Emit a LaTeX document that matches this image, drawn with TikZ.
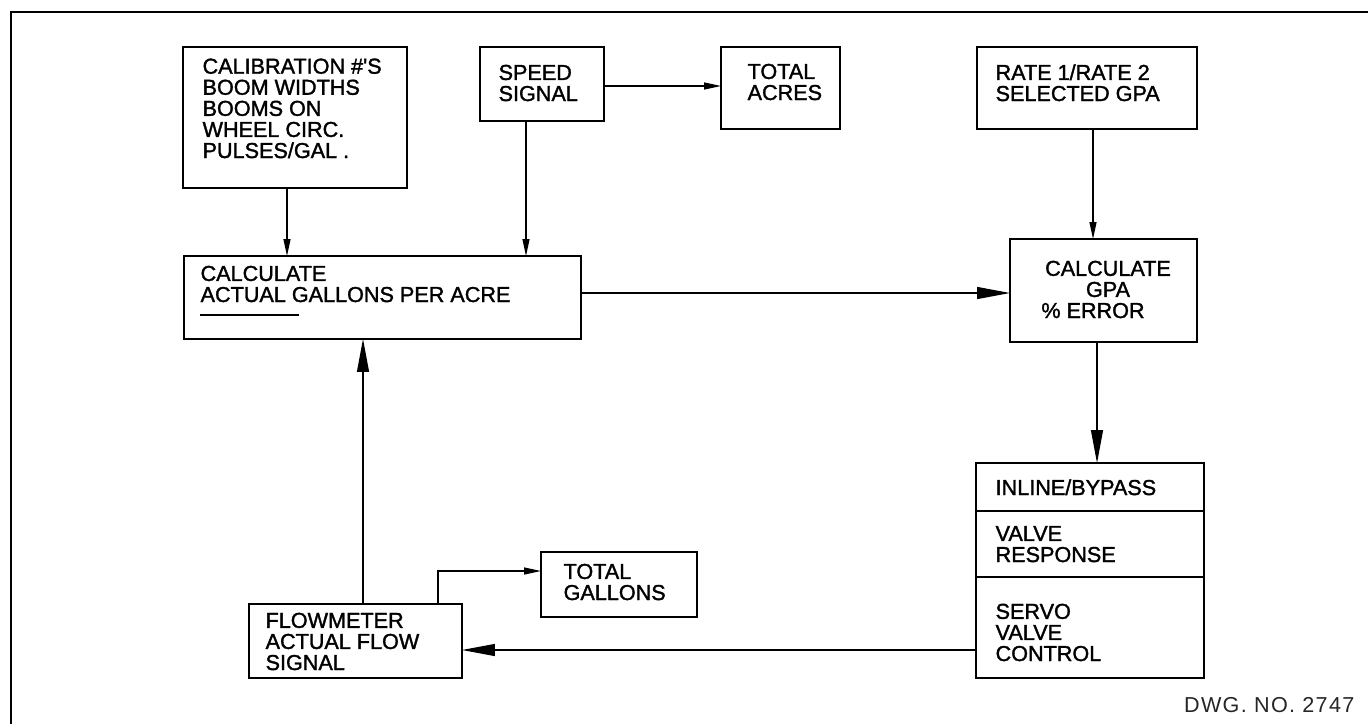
\documentclass[tikz,border=0pt]{standalone}
\usepackage{fontspec}
\setmainfont{Liberation Sans}
\newfontfamily\boxfont{Liberation Sans}[FakeBold=1.5]
\usetikzlibrary{arrows.meta,calc,positioning}

\begin{document}
\begin{tikzpicture}[x=0.02cm, y=-0.02cm, line width=0.7pt,
  font=\boxfont\fontsize{12.3}{12}\selectfont,
  box/.style={draw, inner sep=0pt, outer sep=0pt},
  txt/.style={inner sep=0pt, align=left, anchor=base west},
  bigarrow/.style={-{Triangle[length=0.66cm, width=0.24cm]}},
  smallarrow/.style={-{Triangle[length=0.34cm, width=0.14cm]}}]

\useasboundingbox (0,0) rectangle (1368,724);

% Frame (only top and left edge inside the sheet)
\draw[line width=1.4pt] (11,724) -- (11,12) -- (1368,12);

% ============ TOP ROW: inputs ============
% (text nodes are placed at the baseline of their last line)
\node[box, minimum width=4.48cm, minimum height=2.82cm] (calib) at (295,117.5) {};
\node[txt] (calibtxt) at (202,158)
  {CALIBRATION \#\textquotesingle S\\BOOM WIDTHS\\BOOMS ON\\WHEEL CIRC.\\PULSES/GAL .};

\node[box, minimum width=2.48cm, minimum height=1.48cm] (speed) at (542,84) {};
\node[txt] (speedtxt) at (498,101) {SPEED\\SIGNAL};

\node[box, minimum width=2.38cm, minimum height=1.64cm] (acres) at (780.5,88) {};
\node[txt] (acrestxt) at (747,100) {TOTAL\\ACRES};

\node[box, minimum width=4.4cm, minimum height=1.64cm] (rate) at (1087,88) {};
\node[txt] (ratetxt) at (995,101) {RATE 1/RATE 2\\SELECTED GPA};

% ============ MIDDLE ROW: calculations ============
\node[box, minimum width=7.94cm, minimum height=1.66cm] (calc) at (382.5,297.5) {};
\node[txt] (calctxt) at (200,302) {CALCULATE\\ACTUAL GALLONS PER ACRE};
\draw ([yshift=-0.26cm]calctxt.base west) -- ++(99,0);

\node[box, minimum width=3.74cm, minimum height=2.06cm] (gpa) at (1103.5,290.5) {};
\node[inner sep=0pt, align=center, anchor=base] (gpatxt) at (1108,318)
  {CALCULATE\\GPA\\\% ERROR\hspace*{0.6cm}};

% ============ BOTTOM ROW: valve and flowmeter ============
\node[box, minimum width=4.56cm, minimum height=4.3cm] (servo) at (1090,570.5) {};
\draw ([yshift=-0.96cm]servo.north west) -- ([yshift=-0.96cm]servo.north east);
\draw ([yshift=-2.28cm]servo.north west) -- ([yshift=-2.28cm]servo.north east);
\node[txt] (inlinetxt) at (995,495) {INLINE/BYPASS};
\node[txt] (responsetxt) at (995,562) {VALVE\\RESPONSE};
\node[txt] (servotxt) at (995,661) {SERVO\\VALVE\\CONTROL};

\node[box, minimum width=4.26cm, minimum height=1.48cm] (flow) at (355.5,641) {};
\node[txt] (flowtxt) at (265,670) {FLOWMETER\\ACTUAL FLOW\\SIGNAL};

\node[box, minimum width=3.12cm, minimum height=1.3cm] (gallons) at (619,584.5) {};
\node[txt] (gallonstxt) at (563,600) {TOTAL\\GALLONS};

% ============ CONNECTORS ============
\draw[smallarrow] ([xshift=-0.16cm]calib.south) -- ([xshift=-0.16cm]calib.south |- calc.north);
\draw[smallarrow] ([xshift=-0.32cm]speed.south) -- ([xshift=-0.32cm]speed.south |- calc.north);
\draw[smallarrow] ([yshift=-0.04cm]speed.east) -- ([yshift=-0.04cm]speed.east -| acres.west);
\draw[smallarrow] ([xshift=0.12cm]rate.south) -- ([xshift=0.12cm]rate.south |- gpa.north);

\draw[bigarrow] ([yshift=-0.05cm]calc.east |- gpa.west) -- ([yshift=-0.05cm]gpa.west);
\draw[bigarrow] ([xshift=-0.13cm]gpa.south) -- ([xshift=-0.13cm]gpa.south |- servo.north);
\draw[bigarrow] ([yshift=-0.18cm]flow.east -| servo.west) -- ([yshift=-0.18cm]flow.east);
\draw[bigarrow] ([xshift=0.15cm]flow.north) -- ([xshift=0.15cm]flow.north |- calc.south);

\draw[smallarrow] ([xshift=1.65cm]flow.north) |- ([yshift=0.27cm]gallons.west);

% Drawing number
\node[anchor=base east, inner sep=0pt, text=black!85] (dwg) at (1355,712)
  {\fontspec{Liberation Sans}[LetterSpace=6]DWG. NO. 2747};

\end{tikzpicture}
\end{document}
